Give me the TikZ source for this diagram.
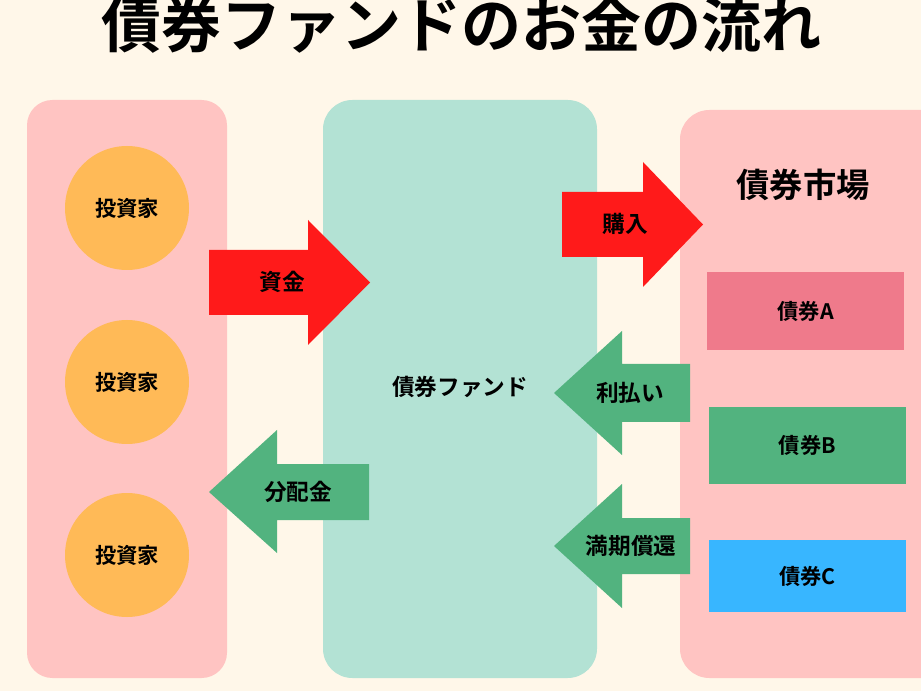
\documentclass[tikz,border=0pt]{standalone}
\usepackage{fontspec}
\usepackage{xcolor}
\usetikzlibrary{positioning}
\newfontfamily\cjk[BoldFont={Noto Sans CJK JP Bold}]{Noto Sans CJK JP}

\definecolor{creamBg}{HTML}{FFF7E9}
\definecolor{panelPink}{HTML}{FFC4C2}
\definecolor{panelMint}{HTML}{B3E2D4}
\definecolor{investorOrange}{HTML}{FFBA57}
\definecolor{flowRed}{HTML}{FF1A1A}
\definecolor{flowGreen}{HTML}{52B37F}
\definecolor{bondPink}{HTML}{EF7A8B}
\definecolor{bondBlue}{HTML}{38B6FF}

\begin{document}
\begin{tikzpicture}[x=0.75pt,y=-0.75pt,
	flowlabel/.style={font=\cjk\bfseries\fontsize{17}{20}\selectfont, inner sep=0pt},
	investor/.style={circle, fill=investorOrange, minimum size=93pt, inner sep=0pt, font=\cjk\bfseries\fontsize{16}{19}\selectfont},
	bondbox/.style={minimum width=148pt, inner sep=0pt, font=\cjk\bfseries\fontsize{16}{19}\selectfont}]
		\clip (0,0) rectangle (921,691);
		\fill[creamBg] (0,0) rectangle (921,691);		% background
		
		% title
		\node[anchor=base, font=\cjk\bfseries\fontsize{45}{48}\selectfont, inner sep=0pt] (title) at (461,48) {債券ファンドのお金の流れ};
		
		% panels
		\fill[panelPink, rounded corners=19pt] (27,100) rectangle (227,678);	% investors
		\fill[panelMint, rounded corners=22pt] (323,100) rectangle (597,678);	% fund
		\fill[panelPink, rounded corners=22pt] (680,110) rectangle (960,678);	% market
		
		% investors
		\node[investor] (inv1) at (127,208) {投資家};
		\node[investor] (inv2) at (127,382) {投資家};
		\node[investor] (inv3) at (127,555) {投資家};
		
		% fund
		\node[flowlabel] (fund) at (460,387) {債券ファンド};
		
		% market
		\node[font=\cjk\bfseries\fontsize{25}{28}\selectfont, inner sep=0pt] (market) at (803,185) {債券市場};
		\node[bondbox, fill=bondPink, minimum height=58.5pt] (bondA) at (805.5,311) {債券A};
		\node[bondbox, fill=flowGreen, minimum height=57.75pt] (bondB) at (807.5,445.5) {債券B};
		\node[bondbox, fill=bondBlue, minimum height=54pt] (bondC) at (807.5,576) {債券C};
		
		% money in
		\fill[flowRed] (209,250) -- (308,250) -- (308,220) -- (370,282.5) -- (308,345) -- (308,315) -- (209,315) -- cycle;
		\node[flowlabel] (capital) at (282,282) {資金};
		
		\fill[flowRed] (562,192) -- (643,192) -- (643,162) -- (703,224.5) -- (643,287) -- (643,257) -- (562,257) -- cycle;
		\node[flowlabel] (purchase) at (625,224) {購入};
		
		% money back
		\fill[flowGreen] (690,364) -- (622,364) -- (622,331) -- (554,393) -- (622,455) -- (622,422) -- (690,422) -- cycle;
		\node[flowlabel] (interest) at (630,393) {利払い};
		
		\fill[flowGreen] (690,518) -- (622,518) -- (622,484) -- (554,546) -- (622,608) -- (622,574) -- (690,574) -- cycle;
		\node[flowlabel] (redeem) at (631,546) {満期償還};
		
		\fill[flowGreen] (369,464) -- (277,464) -- (277,430) -- (209,492) -- (277,553) -- (277,520) -- (369,520) -- cycle;
		\node[flowlabel] (dividend) at (298,492) {分配金};
\end{tikzpicture}
\end{document}
